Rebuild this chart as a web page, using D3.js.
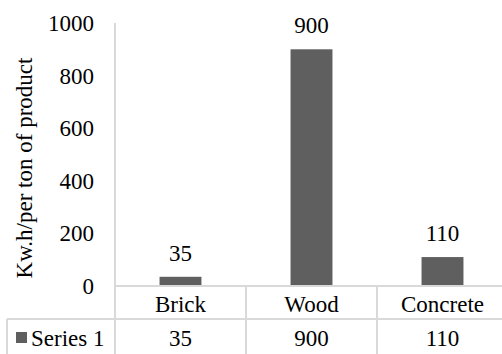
<!DOCTYPE html>
<html>
<head>
<meta charset="utf-8">
<script src="https://cdn.jsdelivr.net/npm/d3@7"></script>
<style>
  body { margin: 0; background: #fff; }
</style>
</head>
<body>
<div id="chart"></div>
<script>
var categories = ["Brick", "Wood", "Concrete"];
var seriesName = "Series 1";
var values = [35, 900, 110];
var yTicks = [0, 200, 400, 600, 800, 1000];
var yTitle = "Kw.h/per ton of product";

var outerWidth = 502, outerHeight = 354;
var margin = {top: 23, left: 115};
var plotRight = 508, zeroY = 286, rowH = 33;

var svg = d3.select("#chart").append("svg")
    .attr("width", outerWidth)
    .attr("height", outerHeight);

var x = d3.scaleBand()
    .domain(categories)
    .range([margin.left, plotRight])
    .paddingInner(0.68)
    .paddingOuter(0.34);

var step = x.step();
var cellX = d => x(d) - (step - x.bandwidth()) / 2;

var y = d3.scaleLinear()
    .domain([0, 1000])
    .range([zeroY, margin.top]);

var grey = "#d9d9d9";

function label(sel) {
    return sel.attr("font-family", "Liberation Serif").attr("font-size", 23).attr("fill", "#000");
}

// y tick labels
svg.selectAll(".ytick")
    .data(yTicks)
    .enter().append("text")
    .call(label)
    .attr("x", 94)
    .attr("y", d => y(d) + 8)
    .attr("text-anchor", "end")
    .text(d => d);

// y title
svg.append("text")
    .call(label)
    .attr("transform", "translate(32,168) rotate(-90)")
    .attr("text-anchor", "middle")
    .text(yTitle);

// bars
svg.selectAll(".bar")
    .data(values)
    .enter().append("rect")
    .attr("x", (d, i) => x(categories[i]))
    .attr("width", x.bandwidth())
    .attr("y", d => y(d))
    .attr("height", d => zeroY - y(d))
    .attr("fill", "#5f5f5f");

// data labels
svg.selectAll(".dlabel")
    .data(values)
    .enter().append("text")
    .call(label)
    .attr("x", (d, i) => x(categories[i]) + x.bandwidth() / 2)
    .attr("y", d => y(d) - 16)
    .attr("text-anchor", "middle")
    .text(d => d);

// table grid lines
var g = svg.append("g").attr("stroke", grey).attr("stroke-width", 2).attr("fill", "none");
g.append("line").attr("x1", margin.left).attr("x2", margin.left).attr("y1", margin.top).attr("y2", zeroY + 2 * rowH + 2);
g.append("line").attr("x1", margin.left).attr("x2", outerWidth).attr("y1", zeroY).attr("y2", zeroY);
g.append("line").attr("x1", 7).attr("x2", outerWidth).attr("y1", zeroY + rowH).attr("y2", zeroY + rowH);
g.append("line").attr("x1", 7).attr("x2", 7).attr("y1", zeroY + rowH).attr("y2", zeroY + 2 * rowH + 2);
g.selectAll(".sep")
    .data(categories.slice(1))
    .enter().append("line")
    .attr("x1", d => cellX(d)).attr("x2", d => cellX(d))
    .attr("y1", zeroY).attr("y2", zeroY + 2 * rowH + 2);

// category row
svg.selectAll(".cat")
    .data(categories)
    .enter().append("text")
    .call(label)
    .attr("x", d => x(d) + x.bandwidth() / 2)
    .attr("y", zeroY + 26)
    .attr("text-anchor", "middle")
    .text(d => d);

// series row
svg.append("rect")
    .attr("x", 16).attr("y", 332)
    .attr("width", 11).attr("height", 11)
    .attr("fill", "#5f5f5f");
svg.append("text")
    .call(label)
    .attr("x", 31).attr("y", zeroY + rowH + 27)
    .text(seriesName);

svg.selectAll(".val")
    .data(values)
    .enter().append("text")
    .call(label)
    .attr("x", (d, i) => x(categories[i]) + x.bandwidth() / 2)
    .attr("y", zeroY + rowH + 27)
    .attr("text-anchor", "middle")
    .text(d => d);
</script>
</body>
</html>
